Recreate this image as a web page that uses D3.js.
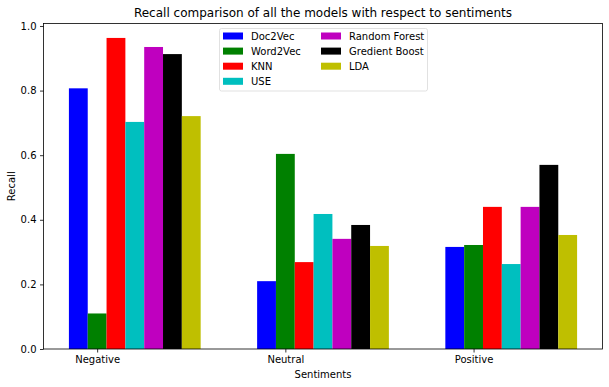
<!DOCTYPE html>
<html>
<head>
<meta charset="utf-8">
<script src="https://cdn.jsdelivr.net/npm/d3@7"></script>
<style>
  body { margin: 0; background: #fff; }
  text { font-family: "DejaVu Sans", sans-serif; fill: #000; }
</style>
</head>
<body>
<script>
// sentiment groups and the recall of each model per group
var sentiments = ["Negative", "Neutral", "Positive"];
var models = ["Doc2Vec", "Word2Vec", "KNN", "USE", "Random Forest", "Gredient Boost", "LDA"];
var colors = ["#0000ff", "#008000", "#ff0000", "#00bfbf", "#bf00bf", "#000000", "#bfbf00"];

var doc2vec = [0.807, 0.210, 0.316];
var word2vec = [0.110, 0.604, 0.322];
var knn = [0.963, 0.269, 0.440];
var use = [0.703, 0.418, 0.263];
var randomForest = [0.935, 0.341, 0.440];
var gradientBoost = [0.913, 0.384, 0.570];
var lda = [0.721, 0.319, 0.353];

var series = [doc2vec, word2vec, knn, use, randomForest, gradientBoost, lda];
var yTicks = [0.0, 0.2, 0.4, 0.6, 0.8, 1.0];

var w = 609;
var h = 387;
// plot box (note: "top" is a reserved window property, so avoid it)
var plotLeft = 43.5, plotRight = 602.5, plotTop = 23.5, plotBottom = 349;
var barWidth = 0.1;

var svg = d3.select("body")
    .append("svg")
    .attr("width", w)
    .attr("height", h);

// numeric x like matplotlib: group i at x = i, bars offset by (k - 1) * width
var xScale = d3.scaleLinear()
    .domain([-0.285, 2.685])
    .range([plotLeft, plotRight]);

var yScale = d3.scaleLinear()
    .domain([0, 1.0077])
    .range([plotBottom, plotTop]);

series.forEach(function(vals, k){
    svg.append("g")
        .selectAll("rect")
        .data(vals)
        .enter()
        .append("rect")
        .attr("x", function(d, i){
            return xScale(i + (k - 1) * barWidth - barWidth / 2);
        })
        .attr("y", function(d){
            return yScale(d);
        })
        .attr("width", function(d, i){
            return xScale(i + (k - 1) * barWidth + barWidth / 2) - xScale(i + (k - 1) * barWidth - barWidth / 2);
        })
        .attr("height", function(d){
            return yScale(0) - yScale(d);
        })
        .style("fill", colors[k]);
});

// axes
var xAxis = d3.axisBottom(xScale)
    .tickValues(d3.range(sentiments.length))
    .tickFormat(function(d){ return sentiments[d]; })
    .tickSize(3.5)
    .tickPadding(3.5);

var yAxis = d3.axisLeft(yScale)
    .tickValues(yTicks)
    .tickFormat(d3.format(".1f"))
    .tickSize(3.5)
    .tickPadding(3.5);

var gx = svg.append("g")
    .attr("transform", "translate(0," + plotBottom + ")")
    .call(xAxis);
var gy = svg.append("g")
    .attr("transform", "translate(" + plotLeft + ",0)")
    .call(yAxis);

[gx, gy].forEach(function(g){
    g.select(".domain").remove();
    g.selectAll("line").attr("stroke", "#000").attr("stroke-width", 0.8);
    g.selectAll("text").style("font-size", "10px").style("fill", "#000");
});

// frame
svg.append("rect")
    .attr("x", plotLeft)
    .attr("y", plotTop)
    .attr("width", plotRight - plotLeft)
    .attr("height", plotBottom - plotTop)
    .attr("fill", "none")
    .attr("stroke", "#000")
    .attr("stroke-width", 0.8);

// labels
svg.append("text")
    .attr("x", (plotLeft + plotRight) / 2)
    .attr("y", 17)
    .attr("text-anchor", "middle")
    .style("font-size", "12px")
    .text("Recall comparison of all the models with respect to sentiments");

svg.append("text")
    .attr("x", (plotLeft + plotRight) / 2)
    .attr("y", 378)
    .attr("text-anchor", "middle")
    .style("font-size", "10px")
    .text("Sentiments");

svg.append("text")
    .attr("transform", "translate(15," + ((plotTop + plotBottom) / 2) + ") rotate(-90)")
    .attr("text-anchor", "middle")
    .style("font-size", "10px")
    .text("Recall");

// legend, two columns
var legend = svg.append("g");
legend.append("rect")
    .attr("x", 219.5)
    .attr("y", 28.5)
    .attr("width", 208)
    .attr("height", 62.5)
    .attr("rx", 2)
    .attr("fill", "#fff")
    .attr("fill-opacity", 0.8)
    .attr("stroke", "#d9d9d9")
    .attr("stroke-width", 0.8);

var items = legend.selectAll("g.item")
    .data(models)
    .enter()
    .append("g")
    .attr("class", "item")
    .attr("transform", function(d, i){
        var col = i < 4 ? 0 : 1;
        var row = i < 4 ? i : i - 4;
        return "translate(" + (223 + col * 98) + "," + (36 + row * 15.1) + ")";
    });

items.append("rect")
    .attr("x", 0)
    .attr("y", -3.5)
    .attr("width", 20)
    .attr("height", 7)
    .style("fill", function(d, i){ return colors[i]; });

items.append("text")
    .attr("x", 28)
    .attr("y", 3.6)
    .style("font-size", "10px")
    .text(function(d){ return d; });
</script>
</body>
</html>
